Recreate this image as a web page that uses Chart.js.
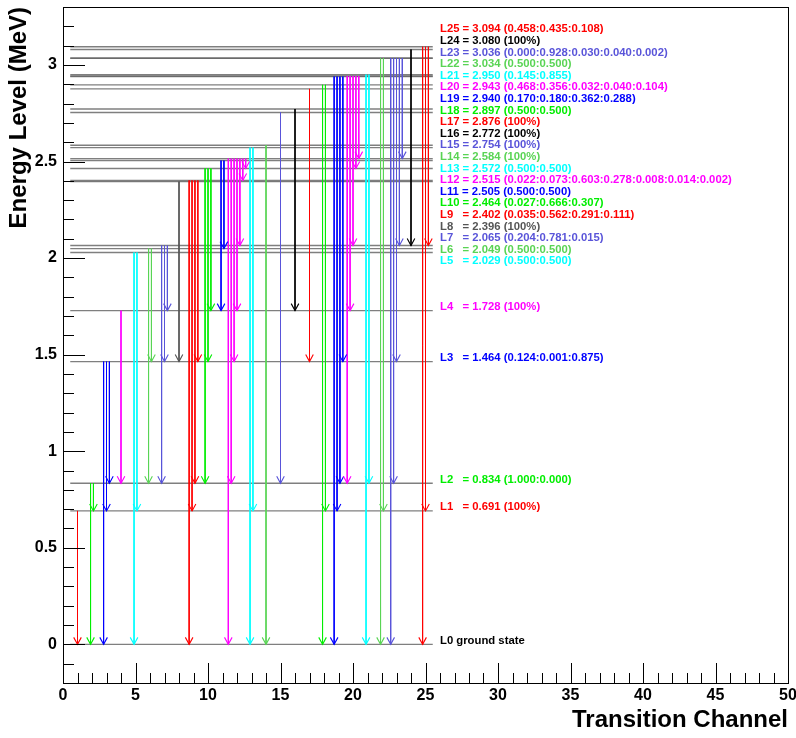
<!DOCTYPE html>
<html>
<head>
<meta charset="utf-8">
<script src="https://cdn.jsdelivr.net/npm/chart.js@4.4.1/dist/chart.umd.min.js"></script>
<style>
  html, body { margin: 0; padding: 0; background: #fff; }
</style>
</head>
<body>
<canvas id="chart" width="796" height="738"></canvas>
<script>
// level scheme
const levelNames = ['L0', 'L1', 'L2', 'L3', 'L4', 'L5', 'L6', 'L7', 'L8', 'L9', 'L10', 'L11', 'L12',
  'L13', 'L14', 'L15', 'L16', 'L17', 'L18', 'L19', 'L20', 'L21', 'L22', 'L23', 'L24', 'L25'];
const levelEnergy = [0, 0.691, 0.834, 1.464, 1.728, 2.029, 2.049, 2.065, 2.396, 2.402, 2.464, 2.505, 2.515,
  2.572, 2.584, 2.754, 2.772, 2.876, 2.897, 2.940, 2.943, 2.950, 3.034, 3.036, 3.080, 3.094];
const levelNotes = ['ground state', '(100%)', '(1.000:0.000)', '(0.124:0.001:0.875)', '(100%)',
  '(0.500:0.500)', '(0.500:0.500)', '(0.204:0.781:0.015)', '(100%)', '(0.035:0.562:0.291:0.111)',
  '(0.027:0.666:0.307)', '(0.500:0.500)', '(0.022:0.073:0.603:0.278:0.008:0.014:0.002)', '(0.500:0.500)',
  '(100%)', '(100%)', '(100%)', '(100%)', '(0.500:0.500)', '(0.170:0.180:0.362:0.288)',
  '(0.468:0.356:0.032:0.040:0.104)', '(0.145:0.855)', '(0.500:0.500)', '(0.000:0.928:0.030:0.040:0.002)',
  '(100%)', '(0.458:0.435:0.108)'];
const levelColors = ['#000000',
  '#ff0000', '#00ee00', '#0000ff', '#ff00ff', '#00ffff', '#59d454', '#5954d9', '#555555',
  '#ff0000', '#00ee00', '#0000ff', '#ff00ff', '#00ffff', '#59d454', '#5954d9', '#000000',
  '#ff0000', '#00ee00', '#0000ff', '#ff00ff', '#00ffff', '#59d454', '#5954d9', '#000000',
  '#ff0000'];

// transitions: initial level, final level, channel position
const transFrom = [1, 2, 2, 3, 3, 3, 4, 5, 5, 6, 6, 7, 7, 7, 8, 9, 9, 9, 9, 10, 10, 10, 11, 11,
  12, 12, 12, 12, 12, 12, 12, 13, 13, 14, 15, 16, 17, 18, 18, 19, 19, 19, 19,
  20, 20, 20, 20, 20, 21, 21, 22, 22, 23, 23, 23, 23, 23, 24, 25, 25, 25];
const transTo = [0, 0, 1, 0, 1, 2, 2, 0, 1, 2, 3, 2, 3, 4, 3, 0, 1, 2, 3, 2, 3, 4, 4, 6,
  0, 2, 3, 4, 7, 9, 10, 0, 1, 0, 2, 4, 3, 0, 1, 0, 1, 2, 3,
  2, 4, 7, 10, 12, 0, 2, 0, 1, 0, 2, 3, 7, 12, 7, 0, 1, 7];
const transX = [1.0, 1.9, 2.1, 2.8, 3.0, 3.2, 4.0, 4.9, 5.1, 5.9, 6.1, 6.8, 7.0, 7.2, 8.0,
  8.7, 8.9, 9.1, 9.3, 9.8, 10.0, 10.2, 10.9, 11.1,
  11.4, 11.6, 11.8, 12.0, 12.2, 12.4, 12.6, 12.9, 13.1, 14.0, 15.0, 16.0, 17.0, 17.9, 18.1,
  18.7, 18.9, 19.1, 19.3, 19.6, 19.8, 20.0, 20.2, 20.4, 20.9, 21.1, 21.9, 22.1,
  22.6, 22.8, 23.0, 23.2, 23.4, 24.0, 24.8, 25.0, 25.2];

const xMajorTicks = [0, 5, 10, 15, 20, 25, 30, 35, 40, 45, 50];
const yMajorTicks = [0, 0.5, 1, 1.5, 2, 2.5, 3];

const FONT = '"Liberation Sans", Helvetica, Arial, sans-serif';
const LINE_X0 = 0.5, LINE_X1 = 25.5, LABEL_X = 26.0;

const datasets = [];
levelEnergy.forEach((e, i) => {
  datasets.push({
    data: [{ x: LINE_X0, y: e }, { x: LINE_X1, y: e }],
    borderColor: 'rgba(95,95,95,0.8)', borderWidth: 1.4, order: 2,
  });
});
transFrom.forEach((f, k) => {
  datasets.push({
    data: [{ x: transX[k], y: levelEnergy[f] }, { x: transX[k], y: levelEnergy[transTo[k]] }],
    borderColor: levelColors[f], borderWidth: 1, order: 1,
  });
});

function isMajor(v, list) {
  return list.find((m) => Math.abs(m - v) < 1e-6);
}

// keep the plot frame where the reference has it
function noScalePadding(s) {
  s.paddingTop = 0; s.paddingBottom = 0; s.paddingLeft = 0; s.paddingRight = 0;
}

const decor = {
  id: 'decor',
  afterDatasetsDraw(chart) {
    const { ctx, scales: { x, y } } = chart;
    ctx.save();
    // arrow heads
    ctx.lineWidth = 1.1;
    transFrom.forEach((f, k) => {
      const px = x.getPixelForValue(transX[k]);
      const py = y.getPixelForValue(levelEnergy[transTo[k]]);
      ctx.strokeStyle = levelColors[f];
      ctx.beginPath();
      ctx.moveTo(px - 3.8, py - 7);
      ctx.lineTo(px, py);
      ctx.lineTo(px + 3.8, py - 7);
      ctx.stroke();
    });
    // level labels
    ctx.font = 'bold 11.3px ' + FONT;
    ctx.textBaseline = 'middle';
    ctx.textAlign = 'left';
    const tx = x.getPixelForValue(LABEL_X);
    levelNames.forEach((name, i) => {
      let v;
      if (i < 5) v = levelEnergy[i] + 0.02;
      else v = 1.983 + (i - 5) * (3.185 - 1.983) / 20;
      const pad = name.length === 2 ? '   ' : ' ';
      const text = i === 0 ? name + ' ' + levelNotes[0]
        : name + pad + '= ' + levelEnergy[i].toFixed(3) + ' ' + levelNotes[i];
      ctx.fillStyle = levelColors[i];
      ctx.fillText(text, tx, y.getPixelForValue(v));
    });
    ctx.restore();
  },
  afterDraw(chart) {
    const { ctx, chartArea: a, scales: { x, y } } = chart;
    ctx.save();
    ctx.strokeStyle = '#000';
    ctx.lineWidth = 1;
    ctx.strokeRect(Math.round(a.left) + 0.5, Math.round(a.top) + 0.5,
      Math.round(a.right - a.left), Math.round(a.bottom - a.top));
    ctx.beginPath();
    y.ticks.forEach((t) => {
      const py = Math.round(y.getPixelForValue(t.value)) + 0.5;
      const len = isMajor(t.value, yMajorTicks) !== undefined ? 22 : 11;
      ctx.moveTo(a.left, py);
      ctx.lineTo(a.left + len, py);
    });
    x.ticks.forEach((t) => {
      const px = Math.round(x.getPixelForValue(t.value)) + 0.5;
      const len = isMajor(t.value, xMajorTicks) !== undefined ? 20 : 10;
      ctx.moveTo(px, a.bottom);
      ctx.lineTo(px, a.bottom - len);
    });
    ctx.stroke();
    ctx.restore();
  },
};

new Chart(document.getElementById('chart'), {
  type: 'scatter',
  data: { datasets },
  options: {
    responsive: false,
    animation: false,
    showLine: true,
    elements: { point: { radius: 0, hoverRadius: 0 } },
    layout: { padding: { top: 7, right: 8, left: 0, bottom: 0 } },
    plugins: { legend: { display: false }, tooltip: { enabled: false } },
    scales: {
      x: {
        type: 'linear', min: 0, max: 50,
        grid: { display: false, drawTicks: false, tickLength: 0 }, border: { display: false },
        afterFit: (s) => { s.height = 55; noScalePadding(s); },
        ticks: {
          stepSize: 1, autoSkip: false, maxRotation: 0, padding: 3, color: '#000',
          font: { family: FONT, size: 16, weight: 'bold' },
          callback: (v) => { const m = isMajor(v, xMajorTicks); return m === undefined ? '' : String(m); },
        },
        title: {
          display: true, text: 'Transition Channel', align: 'end', color: '#000',
          font: { family: FONT, size: 24, weight: 'bold', lineHeight: 1.2 },
          padding: { top: 0, bottom: 3 },
        },
      },
      y: {
        type: 'linear', min: -0.2, max: 3.3,
        grid: { display: false, drawTicks: false, tickLength: 0 }, border: { display: false },
        afterFit: (s) => { s.width = 63; noScalePadding(s); },
        ticks: {
          stepSize: 0.1, autoSkip: false, padding: 6, color: '#000',
          font: { family: FONT, size: 16, weight: 'bold' },
          callback: (v) => { const m = isMajor(v, yMajorTicks); return m === undefined ? '' : String(m); },
        },
        title: {
          display: true, text: 'Energy Level (MeV)', align: 'end', color: '#000',
          font: { family: FONT, size: 24, weight: 'bold', lineHeight: 1.2 },
          padding: { top: 5, bottom: 0 },
        },
      },
    },
  },
  plugins: [decor],
});
</script>
</body>
</html>
